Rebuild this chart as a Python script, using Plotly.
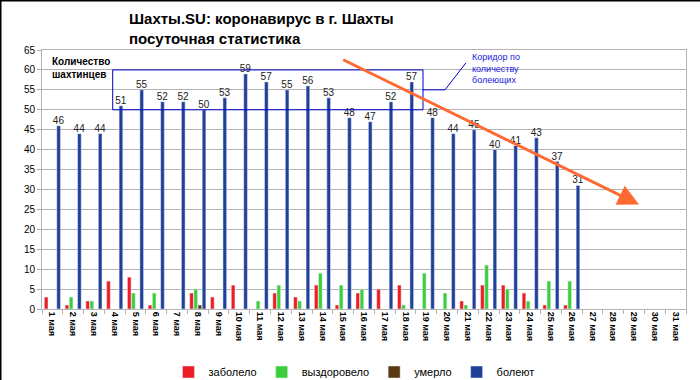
import plotly.graph_objects as go

days = [f"{i} мая" for i in range(1, 32)]
zabolelo = [3, 1, 2, 7, 8, 1, 0, 4, 3, 6, 0, 4, 3, 6, 1, 4, 5, 6, 0, 0, 2, 6, 6, 4, 1, 1]
vyzdorovelo = [0, 3, 2, 0, 4, 4, 0, 5, 0, 0, 2, 6, 2, 9, 6, 5, 0, 1, 9, 4, 1, 11, 5, 2, 7, 7]
umerlo = [0, 0, 0, 0, 0, 0, 0, 1, 0, 0, 0, 0, 0, 0, 0, 0, 0, 0, 0, 0, 0, 0, 0, 0, 0, 0]
boleyut = [46, 44, 44, 51, 55, 52, 52, 50, 53, 59, 57, 55, 56, 53, 48, 47, 52, 57, 48, 44,
           45, 40, 41, 43, 37, 31]

pad = [None] * (31 - len(boleyut))

def z(v):
    return [x if x else None for x in v] + pad

FONT = "Liberation Sans"
W, H = 700, 380
L, R, T, B = 42, 14, 50, 71
PW, PH = W - L - R, H - T - B

def px_x(p):
    return (p - L) / PW

def px_y(p):
    return 1 - (p - T) / PH

fig = go.Figure()
fig.add_bar(name="заболело", x=days, y=z(zabolelo), marker_color="#ee1c25")
fig.add_bar(name="выздоровело", x=days, y=z(vyzdorovelo), marker_color="#3ccf3c")
fig.add_bar(name="умерло", x=days, y=z(umerlo), marker_color="#5c3a10")
fig.add_bar(name="болеют", x=days, y=boleyut + pad, marker_color="#21409a",
            text=[str(v) for v in boleyut] + [""] * len(pad), textposition="outside",
            constraintext="none", cliponaxis=False,
            textfont=dict(family=FONT, size=10, color="#222222"))

fig.update_layout(
    width=W, height=H, margin=dict(l=L, r=R, t=T, b=B, autoexpand=False),
    paper_bgcolor="white", plot_bgcolor="white",
    barmode="group", bargap=0.2, bargroupgap=0.12,
    font=dict(family=FONT, color="#000000"),
    showlegend=True,
    legend=dict(orientation="h", x=px_x(354), xanchor="center",
                y=px_y(372), yanchor="middle", bgcolor="rgba(0,0,0,0)",
                font=dict(family=FONT, size=11, color="#000000"), itemwidth=30,
                traceorder="normal"),
    xaxis=dict(type="category", tickangle=90, tickson="boundaries",
               ticks="outside", ticklen=4, tickcolor="#b3b3b3",
               showgrid=False, showline=True, linecolor="#b3b3b3", mirror=True,
               tickfont=dict(family=FONT, size=9, color="#000000", weight="bold")),
    yaxis=dict(range=[0, 65], dtick=5, ticks="outside", ticklen=4, tickcolor="#b3b3b3",
               gridcolor="#b3b3b3", showline=True, linecolor="#b3b3b3", mirror=True,
               zeroline=False,
               tickfont=dict(family=FONT, size=10, color="#000000")),
)

# title
fig.add_annotation(xref="paper", yref="paper", x=px_x(127), y=px_y(8),
                   xanchor="left", yanchor="top", align="left", showarrow=False,
                   text="<b>Шахты.SU: коронавирус в г. Шахты<br>посуточная статистика</b>",
                   font=dict(family=FONT, size=15, color="#000000"))

# frame on top/left
fig.add_shape(type="line", xref="paper", yref="paper",
              x0=px_x(0), x1=px_x(W), y0=px_y(0.75), y1=px_y(0.75),
              line=dict(color="black", width=1.5))
fig.add_shape(type="line", xref="paper", yref="paper",
              x0=px_x(0.75), x1=px_x(0.75), y0=px_y(H), y1=px_y(0),
              line=dict(color="black", width=1.5))

# corridor rectangle
fig.add_shape(type="rect", xref="paper", yref="y",
              x0=px_x(112.7), x1=px_x(423), y0=50, y1=60,
              line=dict(color="#0000cc", width=1))
fig.add_shape(type="path", xref="paper", yref="y",
              path=f"M {px_x(423)},55 L {px_x(445)},55 L {px_x(466)},61.8",
              line=dict(color="#0000cc", width=1))
fig.add_annotation(xref="paper", yref="paper", x=px_x(470), y=px_y(50),
                   xanchor="left", yanchor="top", align="left", showarrow=False,
                   text="Коридор по<br>количеству<br>болеющих",
                   font=dict(family=FONT, size=9, color="#1a1ae0"))
fig.add_annotation(xref="paper", yref="paper", x=px_x(50), y=px_y(54),
                   xanchor="left", yanchor="top", align="left", showarrow=False,
                   text="<b>Количество<br>шахтинцев</b>",
                   font=dict(family=FONT, size=10, color="#000000"))

# trend arrow
fig.add_annotation(xref="paper", yref="paper", axref="pixel", ayref="pixel",
                   x=px_x(639), y=px_y(204.5),
                   ax=341.7 - 639, ay=59 - 204.5,
                   text="", showarrow=True, arrowhead=2, arrowsize=1.4,
                   arrowwidth=3, arrowcolor="#ff6a33")

fig.write_html("out.html", config={"displayModeBar": False},
               post_script="document.body.style.margin='0';document.body.style.overflow='hidden';")
